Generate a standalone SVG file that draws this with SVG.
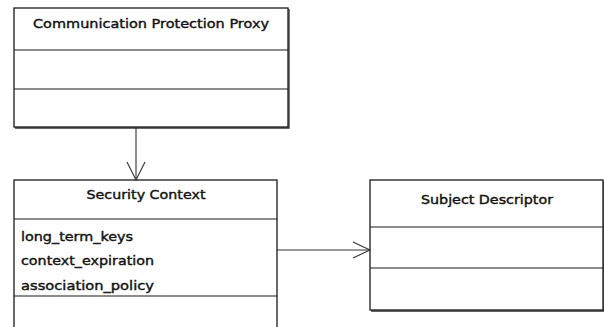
<svg xmlns="http://www.w3.org/2000/svg" width="604" height="327" viewBox="0 0 604 327">
  <style>
    .box { fill: #ffffff; stroke: #1a1a1a; stroke-width: 1.3; }
    .shadow { fill: none; stroke: #333333; stroke-width: 1.3; }
    .div { stroke: #1a1a1a; stroke-width: 1.2; }
    .title { font-family: "DejaVu Sans", Verdana, sans-serif; font-size: 13px; fill: #111111; text-anchor: middle; stroke: #111111; stroke-width: 0.4; }
    .attr { font-family: "DejaVu Sans", Verdana, sans-serif; font-size: 13px; fill: #111111; stroke: #111111; stroke-width: 0.4; }
    .conn { fill: none; stroke: #333333; stroke-width: 1.1; }
    .head { fill: none; stroke: #333333; stroke-width: 1.1; }
  </style>
  <rect width="604" height="327" fill="#ffffff"/>

  <!-- Communication Protection Proxy class -->
  <g id="communication-protection-proxy">
    <polyline class="shadow" points="289,9 289,128 15,128"/>
    <rect class="box" x="14" y="8" width="274" height="119"/>
    <line class="div" x1="14" y1="50" x2="288" y2="50"/>
    <line class="div" x1="14" y1="89" x2="288" y2="89"/>
    <text class="title" x="151" y="28" textLength="236" lengthAdjust="spacingAndGlyphs">Communication Protection Proxy</text>
  </g>

  <!-- Security Context class -->
  <g id="security-context">
    <rect class="box" x="14" y="180" width="263" height="160"/>
    <line class="div" x1="14" y1="219" x2="277" y2="219"/>
    <line class="div" x1="14" y1="296" x2="277" y2="296"/>
    <text class="title" x="146" y="199" textLength="119" lengthAdjust="spacingAndGlyphs">Security Context</text>
    <text class="attr" x="21" y="241" textLength="112" lengthAdjust="spacingAndGlyphs">long_term_keys</text>
    <text class="attr" x="21" y="265" textLength="133" lengthAdjust="spacingAndGlyphs">context_expiration</text>
    <text class="attr" x="21" y="290" textLength="133" lengthAdjust="spacingAndGlyphs">association_policy</text>
  </g>

  <!-- Subject Descriptor class -->
  <g id="subject-descriptor">
    <polyline class="shadow" points="604,181 604,311 371,311"/>
    <rect class="box" x="370" y="180" width="233" height="130"/>
    <line class="div" x1="370" y1="227" x2="603" y2="227"/>
    <line class="div" x1="370" y1="268" x2="603" y2="268"/>
    <text class="title" x="487" y="204" textLength="132" lengthAdjust="spacingAndGlyphs">Subject Descriptor</text>
  </g>

  <!-- Associations -->
  <g id="connectors">
    <line class="conn" x1="136" y1="127" x2="136" y2="180"/>
    <polyline class="head" points="127,162 136,180 145,162"/>
    <line class="conn" x1="277" y1="250" x2="370" y2="250"/>
    <polyline class="head" points="353,242 370,250 353,258"/>
  </g>
</svg>
